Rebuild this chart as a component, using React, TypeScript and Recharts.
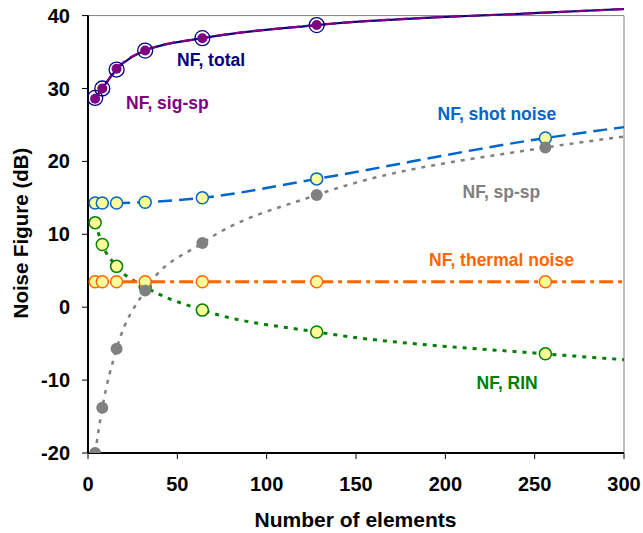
import React from "react";
import {
  ComposedChart,
  Line,
  XAxis,
  YAxis,
  ReferenceLine,
} from "recharts";

/* ------------------------------------------------------------------ */
/*  Data                                                               */
/* ------------------------------------------------------------------ */

const elements = [4, 8, 16, 32, 64, 128, 256, 300];
const nfTotal = [28.7, 30.0, 32.6, 35.2, 36.9, 38.7, 40.4, 40.9];
const nfSigSp = [28.6, 30.0, 32.7, 35.2, 36.9, 38.7, 40.4, 40.9];
const nfShot = [14.3, 14.3, 14.3, 14.4, 15.0, 17.6, 23.2, 24.7];
const nfSpSp = [-20.0, -13.8, -5.7, 2.3, 8.8, 15.4, 21.9, 23.4];
const nfThermal = [3.5, 3.5, 3.5, 3.5, 3.5, 3.5, 3.5, 3.5];
const nfRin = [11.6, 8.6, 5.6, 2.8, -0.4, -3.4, -6.4, -7.2];

// which x values carry a marker
const markedTotal = [4, 8, 16, 32, 64, 128];
const markedOther = [4, 8, 16, 32, 64, 128, 256];

const xTicks = [0, 50, 100, 150, 200, 250, 300];
const yTicks = [-20, -10, 0, 10, 20, 30, 40];

const rows = elements.map((x, i) => ({
  x,
  total: nfTotal[i],
  sigsp: nfSigSp[i],
  shot: nfShot[i],
  spsp: nfSpSp[i],
  thermal: nfThermal[i],
  rin: nfRin[i],
}));

/* ------------------------------------------------------------------ */
/*  Styles                                                             */
/* ------------------------------------------------------------------ */

const FONT = "'Liberation Sans', Arial, sans-serif";

const tickStyle = { fontSize: 20, fontWeight: 700, fill: "#000", fontFamily: FONT };

const labelBase: React.CSSProperties = {
  position: "absolute",
  fontFamily: FONT,
  fontWeight: 700,
  fontSize: 17.5,
  lineHeight: 1,
  whiteSpace: "nowrap",
};

const notes = [
  { text: "NF, total", color: "#000080", left: 177, cy: 60.5 },
  { text: "NF, sig-sp", color: "#800080", left: 126, cy: 103.3 },
  { text: "NF, shot noise", color: "#0066CC", left: 437.5, cy: 115 },
  { text: "NF, sp-sp", color: "#808080", left: 462.5, cy: 192.7 },
  { text: "NF, thermal noise", color: "#FF6600", left: 429, cy: 261 },
  { text: "NF, RIN", color: "#008000", left: 476.5, cy: 384 },
];

/* ------------------------------------------------------------------ */
/*  Markers                                                            */
/* ------------------------------------------------------------------ */

function makeDot(marked: number[], r: number, fill: string, stroke: string, sw: number) {
  return (props: any) => {
    const { cx, cy, payload, index } = props;
    if (!marked.includes(payload.x)) return <g key={index} />;
    return (
      <circle key={index} cx={cx} cy={cy} r={r} fill={fill} stroke={stroke} strokeWidth={sw} />
    );
  };
}

/* ------------------------------------------------------------------ */
/*  Component                                                          */
/* ------------------------------------------------------------------ */

export default function App() {
  return (
    <div style={{ position: "absolute", left: 0, top: 0, width: 643, height: 533, background: "#fff" }}>
      <ComposedChart
        width={643}
        height={533}
        data={rows}
        margin={{ top: 1, right: 19, bottom: 20, left: 0 }}
      >
        <XAxis
          type="number"
          dataKey="x"
          domain={[0, 300]}
          ticks={xTicks}
          tick={tickStyle}
          tickSize={6}
          tickMargin={18}
          height={60}
          axisLine={{ stroke: "#000", strokeWidth: 2 }}
          tickLine={{ stroke: "#000" }}
        />
        <YAxis
          type="number"
          domain={[-20, 42]}
          ticks={yTicks}
          tick={tickStyle}
          tickSize={6}
          tickMargin={12}
          width={88}
          axisLine={false}
          tickLine={{ stroke: "#000" }}
          allowDataOverflow
        />

        {/* plot frame: grey top/right, black left axis */}
        <ReferenceLine
          segment={[{ x: 0, y: 40 }, { x: 300, y: 40 }]}
          stroke="#808080"
          strokeWidth={1}
        />
        <ReferenceLine
          segment={[{ x: 300, y: -20 }, { x: 300, y: 40 }]}
          stroke="#808080"
          strokeWidth={1}
        />
        <ReferenceLine
          segment={[{ x: 0, y: -20 }, { x: 0, y: 40 }]}
          stroke="#000"
          strokeWidth={2}
        />

        <Line
          type="monotone"
          dataKey="total"
          stroke="#000080"
          strokeWidth={2.2}
          dot={makeDot(markedTotal, 7.5, "none", "#000080", 1.3)}
          activeDot={false}
          isAnimationActive={false}
        />
        <Line
          type="monotone"
          dataKey="sigsp"
          stroke="#800080"
          strokeWidth={2.2}
          strokeDasharray="12 6"
          dot={makeDot(markedTotal, 5, "#800080", "#800080", 0)}
          activeDot={false}
          isAnimationActive={false}
        />
        <Line
          type="monotone"
          dataKey="shot"
          stroke="#0066CC"
          strokeWidth={2.5}
          strokeDasharray="14 7"
          dot={makeDot(markedOther, 6, "#FFFF99", "#0066CC", 1.5)}
          activeDot={false}
          isAnimationActive={false}
        />
        <Line
          type="monotone"
          dataKey="rin"
          stroke="#008000"
          strokeWidth={3}
          strokeDasharray="4 6"
          dot={makeDot(markedOther, 6, "#FFFF99", "#008000", 1.5)}
          activeDot={false}
          isAnimationActive={false}
        />
        <Line
          type="monotone"
          dataKey="thermal"
          stroke="#FF6600"
          strokeWidth={3}
          strokeDasharray="14 5 4 5"
          dot={makeDot(markedOther, 6, "#FFFF99", "#FF6600", 1.5)}
          activeDot={false}
          isAnimationActive={false}
        />
        <Line
          type="monotone"
          dataKey="spsp"
          stroke="#808080"
          strokeWidth={2.5}
          strokeDasharray="4 6"
          dot={makeDot(markedOther, 6, "#808080", "#808080", 0)}
          activeDot={false}
          isAnimationActive={false}
        />
      </ComposedChart>

      {notes.map((n) => (
        <div key={n.text} style={{ ...labelBase, color: n.color, left: n.left, top: n.cy - 8.6 }}>
          {n.text}
        </div>
      ))}

      <div
        style={{
          ...labelBase,
          fontSize: 21,
          color: "#000",
          left: 355.5,
          top: 519 - 10.3,
          transform: "translateX(-50%)",
        }}
      >
        Number of elements
      </div>
      <div
        style={{
          ...labelBase,
          fontSize: 20.5,
          color: "#000",
          left: 21,
          top: 233,
          transform: "translate(-50%, -50%) rotate(-90deg)",
        }}
      >
        Noise Figure (dB)
      </div>
    </div>
  );
}
